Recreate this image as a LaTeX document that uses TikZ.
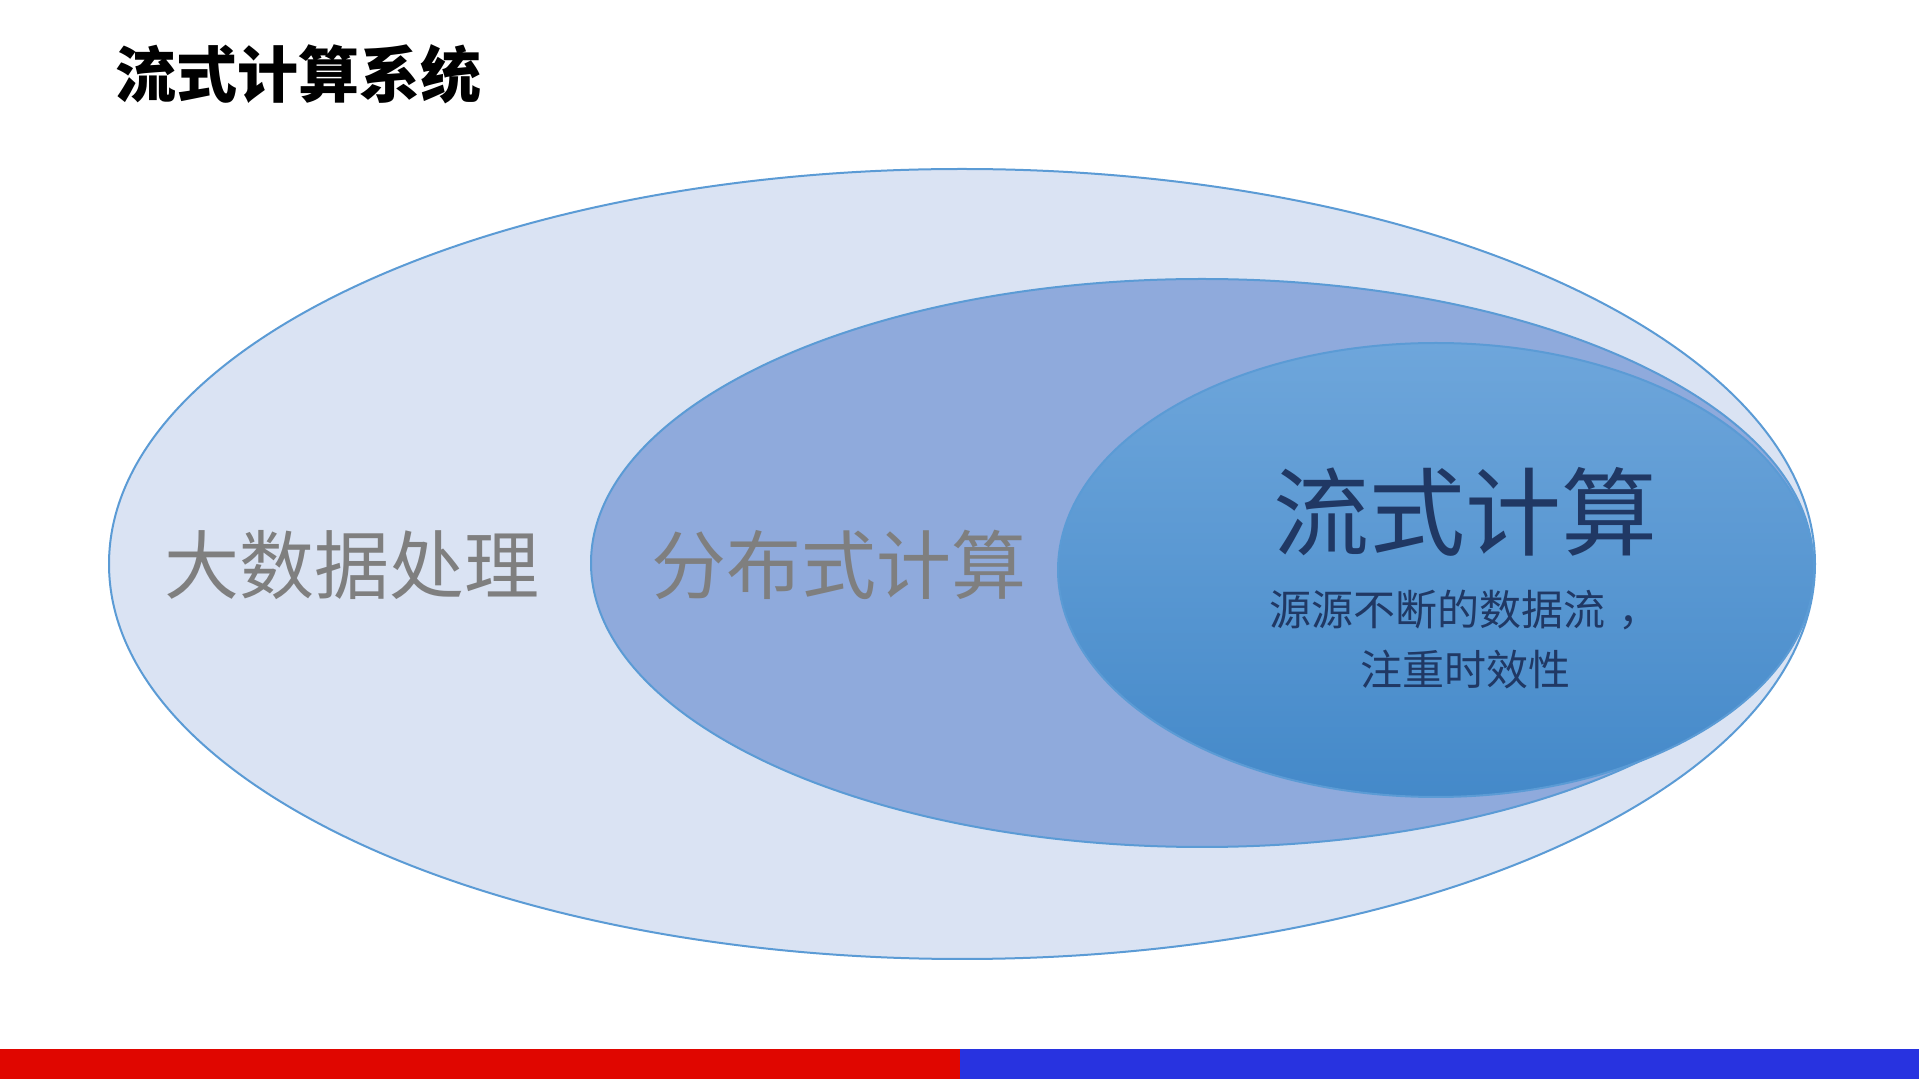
\documentclass[tikz,border=0pt]{standalone}
\usepackage{fontspec}
\newfontfamily\cjk{Noto Sans CJK SC}
\newfontfamily\cjkheavy{Noto Sans CJK SC Black}
\definecolor{outerfill}{HTML}{DAE3F3}
\definecolor{midfill}{HTML}{8FAADC}
\definecolor{edge}{HTML}{5B9BD5}
\definecolor{innertop}{HTML}{6EA6DB}
\definecolor{innerbot}{HTML}{4489C9}
\definecolor{graytext}{HTML}{7F7F7F}
\definecolor{navy}{HTML}{203864}
\definecolor{barred}{HTML}{E00600}
\definecolor{barblue}{HTML}{2833E0}
\tikzset{
  ring/.style={draw=edge, line width=1pt},
  label/.style={inner sep=0pt, font=\cjk\fontsize{37.5pt}{40pt}\selectfont, text=graytext},
}
\begin{document}
\begin{tikzpicture}[x=0.5pt,y=-0.5pt]
\useasboundingbox (0,0) rectangle (1919,1079);
\fill[white] (0,0) rectangle (1919,1079);
% ellipses
\filldraw[ring, fill=outerfill] (962,564) ellipse [x radius=853, y radius=395];
\filldraw[ring, fill=midfill] (1202,563) ellipse [x radius=611, y radius=284];
\shade[top color=innertop, bottom color=innerbot] (1436,570) ellipse [x radius=378, y radius=227];
\draw[ring] (1436,570) ellipse [x radius=378, y radius=227];
% texts
\node[inner sep=0pt, font=\cjkheavy\fontsize{30.5pt}{33pt}\selectfont] (title) at (298,74) {流式计算系统};
\node[label] (big) at (352,565) {大数据处理};
\node[label] (dist) at (839,565) {分布式计算};
\node[inner sep=0pt, text=navy, font=\cjk\fontsize{48pt}{52pt}\selectfont] (stream) at (1465,512) {流式计算};
\node[inner sep=0pt, text=navy, align=center, font=\cjk\fontsize{21pt}{30pt}\selectfont] (desc) at (1465,640) {源源不断的数据流\kern0.3em，\\注重时效性};
% bottom bar
\fill[barred] (0,1049) rectangle (960,1079);
\fill[barblue] (960,1049) rectangle (1919,1079);
\end{tikzpicture}
\end{document}
